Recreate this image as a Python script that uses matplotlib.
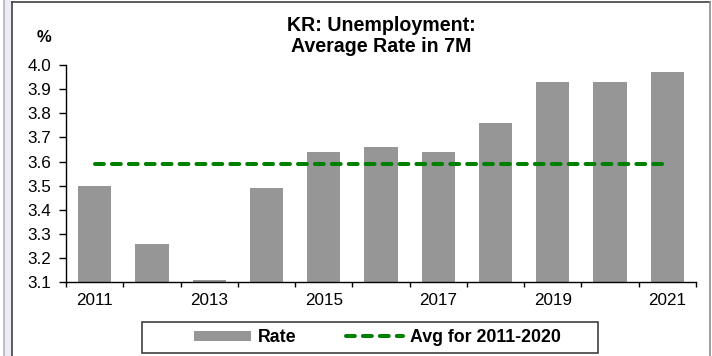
import matplotlib
matplotlib.use("Agg")
import matplotlib.pyplot as plt
from matplotlib.patches import Rectangle
from matplotlib.lines import Line2D

plt.rcParams['font.family'] = ['Liberation Sans', 'DejaVu Sans']

years = [2011, 2012, 2013, 2014, 2015, 2016, 2017, 2018, 2019, 2020, 2021]
rate = [3.50, 3.26, 3.11, 3.49, 3.64, 3.66, 3.64, 3.76, 3.93, 3.93, 3.97]
avg_2011_2020 = 3.59
yticks = [3.1, 3.2, 3.3, 3.4, 3.5, 3.6, 3.7, 3.8, 3.9, 4.0]
xlabels = ['2011', '2013', '2015', '2017', '2019', '2021']

W, H = 712, 356
fig = plt.figure(figsize=(W / 100, H / 100), dpi=100)

def fx(px):
    return px / W

def fy(py):
    return 1 - py / H

# outer decoration / frame
fig.patches.append(Rectangle((fx(4), 0), fx(7), 1, transform=fig.transFigure,
                             facecolor='#ececf6', edgecolor='none', zorder=0))
fig.lines.append(Line2D([fx(3.5), fx(3.5)], [0, 1], transform=fig.transFigure,
                        color='#b4b4b4', lw=1.2))
fig.lines.append(Line2D([fx(11.5), fx(11.5)], [0, fy(1.5)], transform=fig.transFigure,
                        color='#404040', lw=1.2))
fig.lines.append(Line2D([fx(11.5), fx(710)], [fy(1.5), fy(1.5)], transform=fig.transFigure,
                        color='#404040', lw=1.2))
fig.lines.append(Line2D([fx(710), fx(710)], [0, fy(1.5)], transform=fig.transFigure,
                        color='#8c8c8c', lw=1.2))

ax = fig.add_axes([fx(66), fy(282.3), fx(696) - fx(66), fy(65) - fy(282.3)])
x = list(range(len(years)))
bars = ax.bar(x, [r - 3.1 for r in rate], bottom=3.1, width=0.58, color='#969696',
              edgecolor='none', label='Rate', zorder=2)
line, = ax.plot(x, [avg_2011_2020] * len(x), color='#008000', lw=2.9,
                dashes=(2.2, 2.0), dash_capstyle='round', label='Avg for 2011-2020', zorder=3)

ax.set_xlim(-0.5, len(years) - 0.5)
ax.set_ylim(3.1, 4.0)
ax.set_yticks(yticks)
ax.set_yticklabels([f'{v:.1f}' for v in yticks])
ax.set_xticks([i - 0.5 for i in range(len(years) + 1)])
ax.set_xticklabels([])
ax.set_xticks(list(range(0, len(years), 2)), minor=True)
ax.set_xticklabels(xlabels, minor=True)
ax.tick_params(axis='x', which='major', direction='out', length=3.6, width=1, color='black')
ax.tick_params(axis='x', which='minor', length=0, pad=8, labelsize=12.3)
ax.tick_params(axis='y', direction='out', length=5, width=1, pad=5.5, labelsize=12.3)
for s in ['top', 'right']:
    ax.spines[s].set_visible(False)
for s in ['left', 'bottom']:
    ax.spines[s].set_linewidth(1)
    ax.spines[s].set_color('black')
ax.patch.set_visible(False)

fig.text(fx(381), fy(30.7), 'KR: Unemployment:', ha='center', va='baseline',
         fontsize=14.1, fontweight='bold')
fig.text(fx(381), fy(51.7), 'Average Rate in 7M', ha='center', va='baseline',
         fontsize=14.1, fontweight='bold')
fig.text(fx(44), fy(41.5), '%', ha='center', va='baseline', fontsize=12, fontweight='bold')

# legend
fig.patches.append(Rectangle((fx(141.7), fy(352.7)), fx(598) - fx(141.7), fy(321.7) - fy(352.7),
                             transform=fig.transFigure, facecolor='white',
                             edgecolor='#404040', lw=1.2, zorder=1))
leg = fig.legend([bars, line], ['Rate', 'Avg for 2011-2020'], loc='center left',
                 bbox_to_anchor=(fx(194), fy(337.5)), ncol=2,
                 frameon=False, borderpad=0, borderaxespad=0, handlelength=3.2,
                 handleheight=0.5, handletextpad=0.4, columnspacing=2.8,
                 prop={'weight': 'bold', 'size': 12.8})
leg.set_zorder(5)

fig.savefig('out.png', dpi=100)
